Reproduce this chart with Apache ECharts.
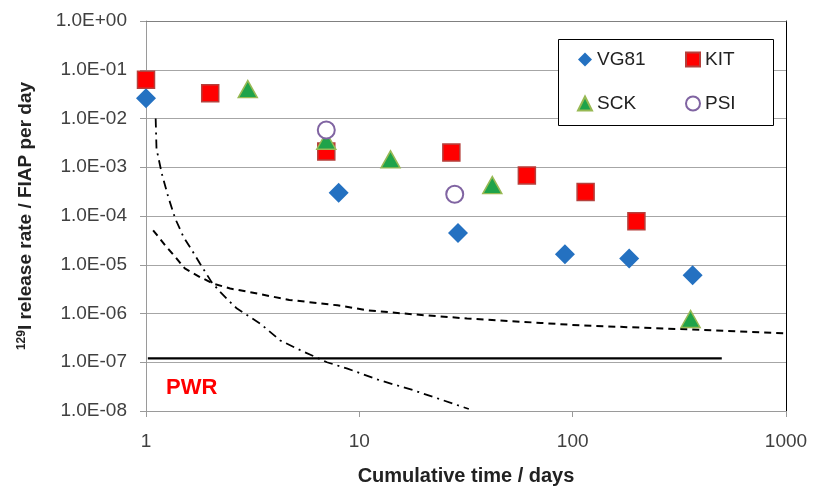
<!DOCTYPE html>
<html>
<head>
<meta charset="utf-8">
<script src="https://cdn.jsdelivr.net/npm/echarts@6/dist/echarts.min.js"></script>
<style>html,body{margin:0;padding:0;background:#fff}#c{width:813px;height:492px}</style>
</head>
<body>
<div id="c"></div>
<script>
// ---- data (x = cumulative time in days, y = 129I release rate / FIAP per day) ----
const vg81 = [[1, 2.6e-2], [8, 3.0e-4], [29, 4.5e-5], [92, 1.65e-5], [184, 1.35e-5], [365, 6.1e-6]];
const kit = [[1, 6.2e-2], [2, 3.3e-2], [7, 2.1e-3], [27, 2.0e-3], [61, 6.8e-4], [115, 3.1e-4], [199, 7.8e-5]];
const sck = [[3, 4.0e-2], [7, 3.5e-3], [14, 1.45e-3], [42, 4.3e-4], [357, 7.7e-7]];
const psi = [[7, 5.8e-3], [28, 2.8e-4]];
const dashedCurve = [[1.08, 5.1e-5], [1.23, 2.5e-5], [1.37, 1.45e-5], [1.52, 8.4e-6], [1.79, 5.6e-6], [2.07, 4.1e-6],
  [2.48, 3.25e-6], [2.76, 3.0e-6], [4.7, 1.9e-6], [7.9, 1.47e-6], [11, 1.16e-6], [18, 9.6e-7], [32, 7.9e-7],
  [71, 6.4e-7], [109, 5.7e-7], [358, 4.7e-7], [1000, 3.9e-7]];
const dashDotCurve = [[1.11, 1.0e-2], [1.12, 2.4e-3], [1.185, 7.5e-4], [1.27, 2.5e-4], [1.37, 8.9e-5], [1.5, 3.7e-5],
  [1.64, 2.0e-5], [1.79, 1.06e-5], [2.03, 4.4e-6], [2.22, 2.8e-6], [2.43, 1.87e-6], [2.67, 1.26e-6], [3.43, 6.2e-7],
  [4.26, 2.8e-7], [5.1, 1.9e-7], [7.05, 1.0e-7], [8.8, 7.4e-8], [12.5, 4.25e-8], [18, 2.65e-8], [32.6, 1.1e-8]];
const pwrLine = [[1.02, 1.2e-7], [500, 1.2e-7]];
const legendLeft = ['VG81', 'SCK'];
const legendRight = ['KIT', 'PSI'];
const xTitle = 'Cumulative time / days';
const yTitleSup = '129';
const yTitleMain = 'I release rate / FIAP per day';
const annotation = 'PWR';

const FONT = 'Liberation Sans';
function expLabel(v) {
  const e = Math.round(Math.log10(v));
  return '1.0E' + (e < 0 ? '-' : '+') + String(Math.abs(e)).padStart(2, '0');
}

const chart = echarts.init(document.getElementById('c'), null, {renderer: 'canvas'});
const legendText = {fontFamily: FONT, fontSize: 19, color: '#222', lineHeight: 25};
chart.setOption({
  animation: false,
  backgroundColor: '#fff',
  textStyle: {fontFamily: FONT},
  grid: {left: 146, right: 27, top: 21, bottom: 81},
  legend: [
    {data: legendLeft, orient: 'vertical', left: 577, top: 47, itemGap: 19, itemWidth: 14, itemHeight: 14, z: 20,
      textStyle: legendText, padding: 0, selectedMode: false},
    {data: legendRight, orient: 'vertical', left: 685, top: 47, itemGap: 19, itemWidth: 14, itemHeight: 14, z: 20,
      textStyle: legendText, padding: 0, selectedMode: false}
  ],
  graphic: [
    {type: 'rect', left: 558, top: 39, z: 2, shape: {width: 215, height: 86},
      style: {fill: '#fff', stroke: '#000', lineWidth: 1}},
    {type: 'text', left: 166, top: 377, z: 10,
      style: {text: annotation, fill: '#FF0000', font: 'bold 22px ' + FONT}}
  ],
  xAxis: [{
    type: 'log', logBase: 10, min: 1, max: 1000, splitNumber: 3,
    name: xTitle, nameLocation: 'middle', nameGap: 55,
    nameTextStyle: {fontFamily: FONT, fontSize: 20, fontWeight: 'bold', color: '#222'},
    axisLine: {lineStyle: {color: '#9a9a9a', width: 1}},
    axisTick: {show: true, inside: false, length: 6, lineStyle: {color: '#9a9a9a'}},
    minorTick: {show: false},
    axisLabel: {fontFamily: FONT, fontSize: 19, color: '#404040', margin: 21, formatter: v => String(Math.round(v))},
    splitLine: {show: false}
  }, {
    type: 'log', logBase: 10, min: 1, max: 1000, position: 'top',
    axisLine: {show: true, lineStyle: {color: '#808080'}}, axisTick: {show: false},
    axisLabel: {show: false}, splitLine: {show: false}
  }],
  yAxis: [{
    type: 'log', logBase: 10, min: 1e-8, max: 1, splitNumber: 8,
    name: '{sup|' + yTitleSup + '}{main|' + yTitleMain + '}', nameLocation: 'middle', nameGap: 110, nameRotate: 90,
    nameTextStyle: {fontFamily: FONT, fontWeight: 'bold', color: '#222',
      rich: {
        sup: {fontFamily: FONT, fontSize: 12, fontWeight: 'bold', color: '#222', verticalAlign: 'top', lineHeight: 20},
        main: {fontFamily: FONT, fontSize: 19, fontWeight: 'bold', color: '#222', lineHeight: 20}
      }},
    axisLine: {show: true, lineStyle: {color: '#9a9a9a', width: 1}},
    axisTick: {show: true, inside: false, length: 6, lineStyle: {color: '#9a9a9a'}},
    minorTick: {show: false},
    axisLabel: {fontFamily: FONT, fontSize: 19, color: '#404040', margin: 19, formatter: expLabel},
    splitLine: {show: true, lineStyle: {color: '#a6a6a6', width: 1}}
  }, {
    type: 'log', logBase: 10, min: 1e-8, max: 1, position: 'right',
    axisLine: {show: true, lineStyle: {color: '#000', width: 1}}, axisTick: {show: false},
    axisLabel: {show: false}, splitLine: {show: false}
  }],
  series: [
    {name: 'dashed', type: 'line', data: dashedCurve, showSymbol: false, symbol: 'none', z: 3,
      lineStyle: {color: '#000', width: 2, type: [7, 5]}},
    {name: 'dashdot', type: 'line', data: dashDotCurve, showSymbol: false, symbol: 'none', z: 3,
      lineStyle: {color: '#000', width: 1.8, type: [9, 5, 2, 5]}},
    {name: 'pwr', type: 'line', data: pwrLine, showSymbol: false, symbol: 'none', z: 3,
      lineStyle: {color: '#000', width: 2.2, type: 'solid'}},
    {name: 'VG81', type: 'scatter', data: vg81, symbol: 'diamond', symbolSize: 20, z: 4,
      itemStyle: {color: '#2471C1', opacity: 1}},
    {name: 'KIT', type: 'scatter', data: kit, symbol: 'rect', symbolSize: 17, z: 4,
      itemStyle: {color: '#FF0000', borderColor: '#B5403C', borderWidth: 1.5, opacity: 1}},
    {name: 'SCK', type: 'scatter', data: sck, symbol: 'triangle', symbolSize: [19, 17], z: 4,
      itemStyle: {color: '#1FA34A', borderColor: '#98B954', borderWidth: 1.5, opacity: 1}},
    {name: 'PSI', type: 'scatter', data: psi, symbol: 'circle', symbolSize: 17, z: 4,
      itemStyle: {color: '#ffffff', borderColor: '#8064A2', borderWidth: 2, opacity: 1}}
  ]
});
</script>
</body>
</html>
